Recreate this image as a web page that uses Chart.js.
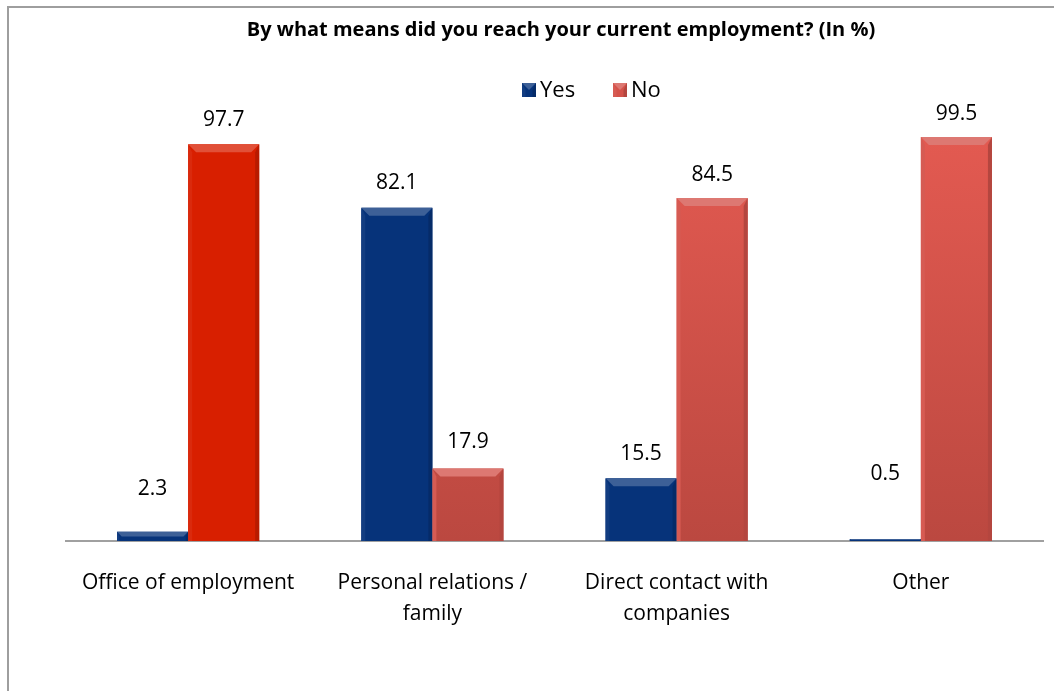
<!DOCTYPE html>
<html>
<head>
<meta charset="utf-8">
<title>Means of reaching current employment</title>
<script src="https://cdn.jsdelivr.net/npm/chart.js@4.4.1/dist/chart.umd.min.js"></script>
<style>
  html, body { margin: 0; padding: 0; background: #fff; }
  #wrap { width: 1054px; height: 691px; }
</style>
</head>
<body>
<div id="wrap"><canvas id="chart" width="1054" height="691"></canvas></div>
<script>
const title = 'By what means did you reach your current employment? (In %)';
const categories = [
  'Office of employment',
  ['Personal relations /', 'family'],
  ['Direct contact with', 'companies'],
  'Other'
];
const yesValues = [2.3, 82.1, 15.5, 0.5];
const noValues = [97.7, 17.9, 84.5, 99.5];

const FONT = '"Open Sans", "Noto Sans", sans-serif';
const BLUE = '#06337A';
const RED_BRIGHT = '#D81F00';
// how far each value label sits above its column (px); the tiny columns get more room
const labelLift = [[43, 25, 24, 65], [24, 26, 23, 23]];

// vertical shade for the softer red columns
function softRed(ctx) {
  const area = ctx.chart.chartArea;
  if (!area) return '#D4524A';
  const g = ctx.chart.ctx.createLinearGradient(0, area.top, 0, area.bottom);
  g.addColorStop(0, '#E35A51');
  g.addColorStop(1, '#BB4840');
  return g;
}

function shade(hex, amt) {
  const n = parseInt(hex.slice(1), 16);
  let r = (n >> 16) & 255, g = (n >> 8) & 255, b = n & 255;
  const f = v => Math.max(0, Math.min(255, Math.round(amt > 0 ? v + (255 - v) * amt : v * (1 + amt))));
  return `rgb(${f(r)},${f(g)},${f(b)})`;
}

// bevel highlight/shadow on each column
function bevel(ctx, x0, x1, top, bottom, base) {
  let b = Math.min(8, (bottom - top) / 2, (x1 - x0) / 2);
  if (b <= 0) return;
  ctx.save();
  ctx.fillStyle = shade(base, 0.22);
  ctx.beginPath();
  ctx.moveTo(x0, top); ctx.lineTo(x1, top); ctx.lineTo(x1 - b, top + b); ctx.lineTo(x0 + b, top + b);
  ctx.closePath(); ctx.fill();
  ctx.fillStyle = shade(base, 0.05);
  ctx.beginPath();
  ctx.moveTo(x0, top); ctx.lineTo(x0 + b / 2, top + b); ctx.lineTo(x0 + b / 2, bottom); ctx.lineTo(x0, bottom);
  ctx.closePath(); ctx.fill();
  ctx.fillStyle = shade(base, -0.15);
  ctx.beginPath();
  ctx.moveTo(x1, top); ctx.lineTo(x1 - b / 2, top + b); ctx.lineTo(x1 - b / 2, bottom); ctx.lineTo(x1, bottom);
  ctx.closePath(); ctx.fill();
  ctx.restore();
}

const barColors = [
  [BLUE, BLUE, BLUE, BLUE],
  [RED_BRIGHT, '#D4524A', '#D4524A', '#D4524A']
];

const bevelPlugin = {
  id: 'bevel',
  afterDatasetsDraw(chart) {
    const ctx = chart.ctx;
    chart.data.datasets.forEach((ds, di) => {
      chart.getDatasetMeta(di).data.forEach((bar, i) => {
        const half = bar.width / 2;
        bevel(ctx, bar.x - half, bar.x + half, bar.y, bar.base, barColors[di][i]);
      });
    });
  }
};

// value labels above the columns
const valueLabels = {
  id: 'valueLabels',
  afterDatasetsDraw(chart) {
    const ctx = chart.ctx;
    ctx.save();
    ctx.font = '21px ' + FONT;
    ctx.fillStyle = '#000';
    ctx.textAlign = 'center';
    ctx.textBaseline = 'middle';
    chart.data.datasets.forEach((ds, di) => {
      chart.getDatasetMeta(di).data.forEach((bar, i) => {
        ctx.fillText(ds.data[i].toFixed(1), bar.x, bar.y - labelLift[di][i]);
      });
    });
    ctx.restore();
  }
};

// title and legend with small bevelled swatches
const header = {
  id: 'header',
  afterDraw(chart) {
    const ctx = chart.ctx;
    ctx.save();
    ctx.fillStyle = '#000';
    ctx.textAlign = 'center';
    ctx.textBaseline = 'middle';
    ctx.font = 'bold 20px ' + FONT;
    ctx.fillText(title, 561, 30);

    const items = [
      { text: chart.data.datasets[0].label, color: BLUE, x: 522 },
      { text: chart.data.datasets[1].label, color: '#D4524A', x: 613 }
    ];
    ctx.textAlign = 'left';
    ctx.font = '22px ' + FONT;
    items.forEach(it => {
      ctx.fillStyle = it.color;
      ctx.fillRect(it.x, 83, 14, 14);
      bevel(ctx, it.x, it.x + 14, 83, 97, it.color);
      ctx.fillStyle = '#000';
      ctx.fillText(it.text, it.x + 18, 91);
    });
    ctx.restore();
  }
};

// outer frame
const frame = {
  id: 'frame',
  beforeDraw(chart) {
    const ctx = chart.ctx;
    ctx.save();
    ctx.fillStyle = '#fff';
    ctx.fillRect(0, 0, chart.width, chart.height);
    ctx.strokeStyle = '#9E9E9E';
    ctx.lineWidth = 2;
    ctx.beginPath();
    ctx.moveTo(8, chart.height); ctx.lineTo(8, 7); ctx.lineTo(chart.width, 7);
    ctx.stroke();
    ctx.restore();
  }
};

new Chart(document.getElementById('chart'), {
  type: 'bar',
  data: {
    labels: categories,
    datasets: [
      { label: 'Yes', data: yesValues, backgroundColor: BLUE, borderWidth: 0 },
      {
        label: 'No', data: noValues, borderWidth: 0,
        backgroundColor: ctx => ctx.dataIndex === 0 ? RED_BRIGHT : softRed(ctx)
      }
    ]
  },
  options: {
    responsive: false,
    animation: false,
    layout: { padding: { left: 66, right: 11, top: 135, bottom: 35 } },
    datasets: { bar: { barPercentage: 1, categoryPercentage: 0.582 } },
    plugins: {
      legend: { display: false },
      tooltip: { enabled: false },
      title: { display: false }
    },
    scales: {
      x: {
        grid: { display: false, drawTicks: false },
        border: { color: '#A0A0A0', width: 2 },
        ticks: {
          color: '#000',
          padding: 27,
          maxRotation: 0,
          autoSkip: false,
          font: { family: FONT, size: 21, lineHeight: 1.45 }
        }
      },
      y: { display: false, min: 0, max: 100 }
    }
  },
  plugins: [frame, bevelPlugin, valueLabels, header]
});
</script>
</body>
</html>
